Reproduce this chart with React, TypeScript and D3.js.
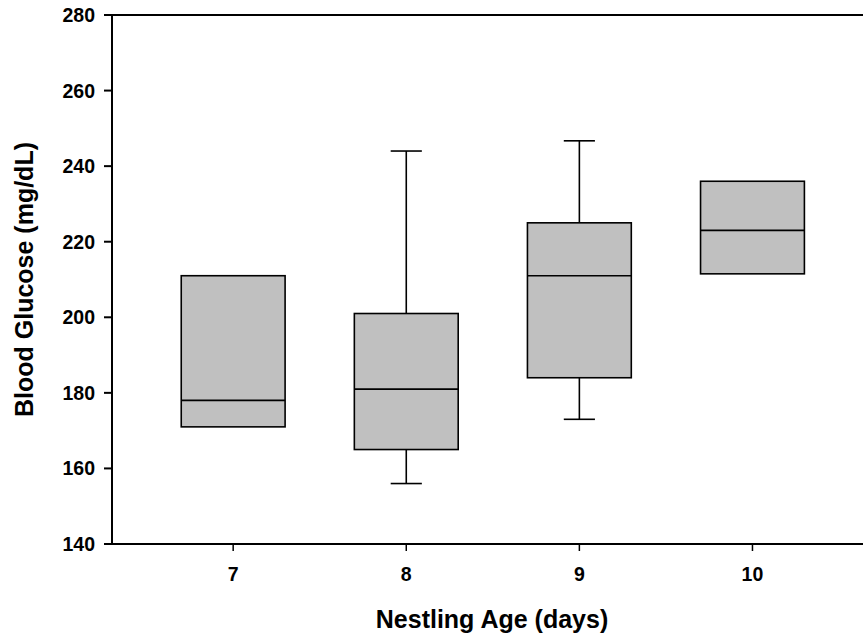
import React from "react";
import * as d3 from "d3";

const ages = [7, 8, 9, 10];
const q1 = [171, 165, 184, 211.5];
const medians = [178, 181, 211, 223];
const q3 = [211, 201, 225, 236];
const whiskerLow: (number | null)[] = [null, 156, 173, null];
const whiskerHigh: (number | null)[] = [null, 244, 246.7, null];
const yTicks = [140, 160, 180, 200, 220, 240, 260, 280];
const xTicks = [7, 8, 9, 10];

const W = 863;
const H = 639;
const left = 112;
const top = 15;
const bottom = 544;

export default function App() {
  const x = d3.scaleLinear().domain([6.3, 10.7]).range([left, left + 4.4 * 173.1]);
  const y = d3.scaleLinear().domain([140, 280]).range([bottom, top]);
  const unit = x(8) - x(7);
  const boxW = unit * 0.6;
  const capW = unit * 0.18;
  const font = "Arial, 'Liberation Sans', sans-serif";
  const right = x(10.7);

  return (
    <div style={{ position: "fixed", left: 0, top: 0 }}>
      <svg width={W} height={H} style={{ display: "block", background: "#fff" }}>
        {ages.map((a, i) => {
          const cx = x(a);
          const lo = whiskerLow[i];
          const hi = whiskerHigh[i];
          return (
            <g key={a} stroke="#000" strokeWidth={1.6}>
              {hi !== null && (
                <>
                  <line x1={cx} x2={cx} y1={y(q3[i])} y2={y(hi)} />
                  <line x1={cx - capW / 2} x2={cx + capW / 2} y1={y(hi)} y2={y(hi)} />
                </>
              )}
              {lo !== null && (
                <>
                  <line x1={cx} x2={cx} y1={y(q1[i])} y2={y(lo)} />
                  <line x1={cx - capW / 2} x2={cx + capW / 2} y1={y(lo)} y2={y(lo)} />
                </>
              )}
              <rect
                x={cx - boxW / 2}
                y={y(q3[i])}
                width={boxW}
                height={y(q1[i]) - y(q3[i])}
                fill="#c0c0c0"
              />
              <line x1={cx - boxW / 2} x2={cx + boxW / 2} y1={y(medians[i])} y2={y(medians[i])} />
            </g>
          );
        })}
        <g stroke="#000" strokeWidth={2}>
          <line x1={left} x2={left} y1={top} y2={bottom} />
          <line x1={left} x2={right} y1={bottom} y2={bottom} />
          <line x1={left} x2={right} y1={top} y2={top} />
          {yTicks.map((t) => (
            <line key={t} x1={left - 8} x2={left} y1={y(t)} y2={y(t)} />
          ))}
          {xTicks.map((t) => (
            <line key={t} x1={x(t)} x2={x(t)} y1={bottom} y2={bottom + 7} strokeWidth={1.5} />
          ))}
        </g>
        <g fontFamily={font} fontWeight="bold" fontSize={19.5} fill="#000">
          {yTicks.map((t) => (
            <text key={t} x={95} y={y(t)} textAnchor="end" dominantBaseline="central">
              {t}
            </text>
          ))}
          {xTicks.map((t) => (
            <text key={t} x={x(t)} y={581} textAnchor="middle">
              {t}
            </text>
          ))}
        </g>
        <text
          x={492}
          y={628}
          textAnchor="middle"
          fontFamily={font}
          fontWeight="bold"
          fontSize={25}
        >
          Nestling Age (days)
        </text>
        <text
          transform={`translate(33, ${(top + bottom) / 2}) rotate(-90)`}
          textAnchor="middle"
          fontFamily={font}
          fontWeight="bold"
          fontSize={25}
        >
          Blood Glucose (mg/dL)
        </text>
      </svg>
    </div>
  );
}
